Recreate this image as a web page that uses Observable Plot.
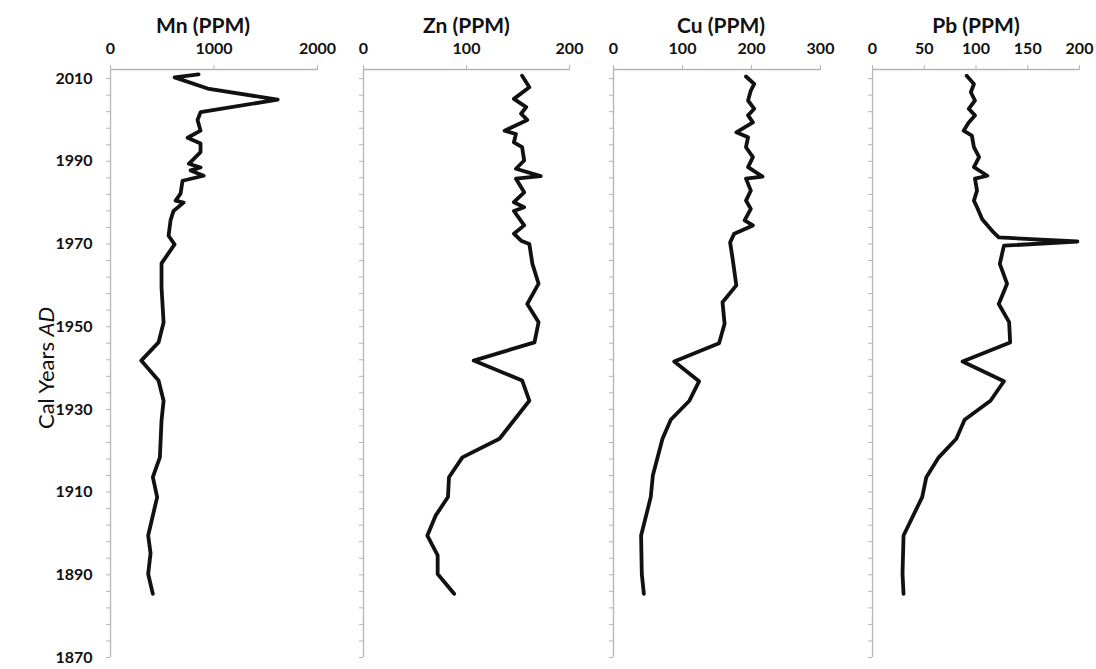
<!DOCTYPE html>
<html><head><meta charset="utf-8">
<script src="https://cdn.jsdelivr.net/npm/d3@7"></script>
<script src="https://cdn.jsdelivr.net/npm/@observablehq/plot@0.6"></script>
<style>
body{margin:0;background:#fff;}
#chart{position:relative;width:1096px;height:669px;font-family:Lato,"Open Sans",sans-serif;overflow:hidden;}
.panel{position:absolute;top:0;}
.panel svg{max-width:none !important;}
#ylab{position:absolute;left:45px;top:368px;transform:translate(-50%,-50%) rotate(-90deg);font-size:22px;white-space:nowrap;color:#111;font-family:Lato,"Open Sans",sans-serif;}
</style></head><body>
<div id="chart"><div id="ylab">Cal Years <i>AD</i></div></div>
<script>
// ---- Data ----
const mnYears  = [2011.0, 2010.3, 2007.6, 2004.9, 2001.9, 2000.0, 1997.4, 1995.7, 1994.3, 1992.2, 1989.4, 1988.5, 1987.8, 1986.5, 1985.3, 1982.2, 1980.5, 1980.0, 1978.0, 1975.7, 1972.0, 1969.9, 1965.3, 1959.5, 1951.0, 1946.2, 1941.8, 1937.0, 1932.1, 1927.3, 1918.4, 1913.6, 1908.8, 1899.5, 1895.2, 1890.2, 1885.4];
const mnValues = [851, 619, 938, 1615, 870, 841, 870, 745, 870, 870, 757, 870, 774, 900, 696, 677, 629, 706, 609, 580, 561, 619, 493, 493, 513, 464, 297, 464, 513, 493, 477, 409, 451, 364, 387, 364, 409];

const znYears  = [2010.7, 2007.9, 2005.1, 2003.1, 2001.5, 2000.0, 1997.4, 1996.6, 1994.6, 1993.4, 1990.2, 1988.2, 1986.4, 1985.8, 1982.5, 1980.1, 1978.9, 1978.0, 1974.5, 1972.5, 1970.8, 1970.0, 1965.2, 1960.4, 1955.5, 1951.1, 1946.2, 1941.8, 1937.0, 1932.1, 1922.9, 1918.4, 1913.6, 1908.8, 1904.3, 1899.5, 1894.7, 1890.2, 1885.4];
const znValues = [154, 161, 146, 158, 153, 159, 137, 148, 146, 154, 156, 148, 172, 148, 156, 146, 156, 146, 156, 146, 153, 161, 164, 170, 159, 170, 166, 107, 154, 161, 132, 96, 83, 82, 70, 62, 72, 72, 88];

const cuYears  = [2010.5, 2008.7, 2007.1, 2004.7, 2002.7, 2001.1, 1999.4, 1997.0, 1995.8, 1993.4, 1991.0, 1988.6, 1986.3, 1985.8, 1982.9, 1980.5, 1978.5, 1975.7, 1974.5, 1972.5, 1970.4, 1966.0, 1960.0, 1955.9, 1950.7, 1946.0, 1941.6, 1936.8, 1932.1, 1927.5, 1922.9, 1914.0, 1908.8, 1899.5, 1890.2, 1885.4];
const cuValues = [192, 204, 199, 195, 204, 195, 202, 178, 195, 192, 202, 195, 216, 192, 199, 192, 199, 190, 202, 175, 169, 173, 178, 158, 161, 153, 88, 124, 110, 83, 71, 57, 54, 40, 41, 44];

const pbYears  = [2010.7, 2008.7, 2006.7, 2004.7, 2002.7, 2001.1, 1999.4, 1997.4, 1996.2, 1993.4, 1991.0, 1988.6, 1986.5, 1985.8, 1982.9, 1980.5, 1978.9, 1976.0, 1972.8, 1971.6, 1970.6, 1969.6, 1965.2, 1960.4, 1955.5, 1951.1, 1946.2, 1941.6, 1936.8, 1932.1, 1927.5, 1922.9, 1918.4, 1913.6, 1908.8, 1899.5, 1890.2, 1885.4];
const pbValues = [91, 98, 95, 99, 93, 99, 93, 88, 96, 98, 103, 98, 111, 99, 101, 98, 101, 106, 117, 122, 198, 127, 123, 130, 122, 132, 133, 87, 127, 114, 89, 81, 64, 52, 48, 30, 29, 30];

const titles = ["Mn (PPM)", "Zn (PPM)", "Cu (PPM)", "Pb (PPM)"];
const mnTicks = [0, 1000, 2000];
const znTicks = [0, 100, 200];
const cuTicks = [0, 100, 200, 300];
const pbTicks = [0, 50, 100, 150, 200];
const yearTicks = d3.range(1870, 2011, 4);
const yearLabels = d3.range(1870, 2011, 20);
const yDomain = [1870, 2012.2];

// ---- Layout ----
const panels = [
  {title: titles[0], years: mnYears, values: mnValues, ticks: mnTicks, left: 110, w: 207, titleDx: -11, showY: true},
  {title: titles[1], years: znYears, values: znValues, ticks: znTicks, left: 363, w: 206, titleDx: 0, showY: false},
  {title: titles[2], years: cuYears, values: cuValues, ticks: cuTicks, left: 613, w: 207, titleDx: 4, showY: false},
  {title: titles[3], years: pbYears, values: pbValues, ticks: pbTicks, left: 872, w: 207, titleDx: 0, showY: false}
];

const chart = document.getElementById("chart");
const grey = "#b5b5b5";
const font = "Lato, 'Open Sans', sans-serif";

panels.forEach(p => {
  const ml = p.showY ? p.left : 20;
  const mr = 17;
  const W = ml + p.w + mr;
  const data = p.years.map((y, i) => ({year: y, value: p.values[i]}));
  const xDomain = [p.ticks[0], p.ticks[p.ticks.length - 1]];
  const svg = Plot.plot({
    width: W,
    height: 669,
    marginLeft: ml,
    marginRight: mr,
    marginTop: 69,
    marginBottom: 12,
    style: {background: "transparent", overflow: "visible", fontFamily: font, color: "#111", maxWidth: "none"},
    x: {domain: xDomain},
    y: {domain: yDomain},
    marks: [
      Plot.ruleY([yDomain[1]], {stroke: grey, strokeWidth: 1.3}),
      Plot.ruleX([xDomain[0]], {stroke: grey, strokeWidth: 1.3}),
      Plot.axisX({anchor: "top", ticks: p.ticks, tickSize: 5, tickPadding: 11, stroke: grey,
                  fontSize: 16, fontWeight: "bold", label: null, tickFormat: d => String(d)}),
      Plot.axisY({anchor: "left", ticks: yearTicks, tickSize: 4, tickPadding: 14, stroke: grey,
                  fontSize: 16, fontWeight: "bold", label: null,
                  tickFormat: d => (p.showY && yearLabels.includes(d)) ? String(d) : ""}),
      Plot.line(data, {x: "value", y: "year", stroke: "#111", strokeWidth: 3.8,
                       strokeLinejoin: "round", strokeLinecap: "round"}),
      Plot.text([p.title], {frameAnchor: "top", dy: -51, dx: p.titleDx, fontSize: 21,
                            fontWeight: "bold", fill: "#111"})
    ]
  });
  const wrap = document.createElement("div");
  wrap.className = "panel";
  wrap.style.left = (p.left - ml) + "px";
  wrap.style.width = W + "px";
  wrap.appendChild(svg);
  chart.appendChild(wrap);
});
</script>
</body></html>
